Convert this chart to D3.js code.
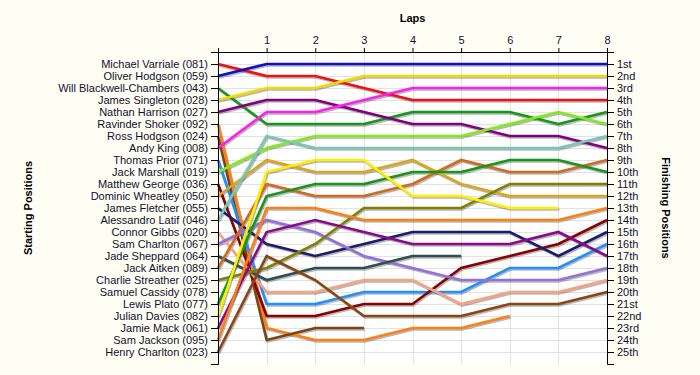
<!DOCTYPE html>
<html>
<head>
<meta charset="utf-8">
<script src="https://cdn.jsdelivr.net/npm/d3@7"></script>
<style>
  body { margin: 0; background: #fffef4; }
  svg { display: block; }
  text { font-family: "Liberation Sans", Arial, sans-serif; }
</style>
</head>
<body>
<svg id="chart"></svg>
<script>
// starting grid order, labels on the left axis
let drivers = [
    "Michael Varriale (081)", "Oliver Hodgson (059)", "Will Blackwell-Chambers (043)",
    "James Singleton (028)", "Nathan Harrison (027)", "Ravinder Shoker (092)",
    "Ross Hodgson (024)", "Andy King (008)", "Thomas Prior (071)",
    "Jack Marshall (019)", "Matthew George (036)", "Dominic Wheatley (050)",
    "James Fletcher (055)", "Alessandro Latif (046)", "Connor Gibbs (020)",
    "Sam Charlton (067)", "Jade Sheppard (064)", "Jack Aitken (089)",
    "Charlie Streather (025)", "Samuel Cassidy (078)", "Lewis Plato (077)",
    "Julian Davies (082)", "Jamie Mack (061)", "Sam Jackson (095)",
    "Henry Charlton (023)"
];

// position of each driver at lap 0,1,2... (shorter arrays = retired)
let positions = [
    [1, 2, 2, 3, 4, 4, 4, 4, 4],
    [2, 1, 1, 1, 1, 1, 1, 1, 1],
    [3, 6, 6, 6, 5, 5, 5, 6, 5],
    [4, 3, 3, 2, 2, 2, 2, 2, 2],
    [5, 4, 4, 5, 6, 6, 7, 7, 8],
    [6, 23, 24, 24, 23, 23, 22],
    [7, 24, 23, 23],
    [8, 5, 5, 4, 3, 3, 3, 3, 3],
    [9, 21, 21, 20, 20, 20, 18, 18, 16],
    [10, 8, 7, 7, 7, 7, 6, 5, 6],
    [11, 22, 22, 21, 21, 18, 17, 16, 14],
    [12, 9, 10, 10, 9, 11, 12, 12, 12],
    [13, 16, 17, 16, 15, 15, 15, 17, 15],
    [14, 7, 8, 8, 8, 8, 8, 8, 7],
    [15, 20, 20, 19, 19, 21, 20, 20, 19],
    [16, 14, 15, 17, 18, 19, 19, 19, 18],
    [17, 19, 18, 18, 17, 17],
    [18, 11, 12, 12, 11, 9, 10, 10, 9],
    [19, 18, 16, 13, 13, 13, 11, 11, 11],
    [20],
    [21, 12, 11, 11, 10, 10, 9, 9, 10],
    [22, 10, 9, 9, 12, 12, 13, 13],
    [23, 15, 14, 15, 16, 16, 16, 15, 17],
    [24, 13, 13, 14, 14, 14, 14, 14, 13],
    [25, 17, 19, 22, 22, 22, 21, 21, 20]
];

let lineColors = [
    "#ee1111", "#1010cc", "#16961a", "#f2dc00", "#800080", "#ff7f10",
    "#7a4512", "#ff1ef0", "#1e90ff", "#80ec1a", "#8b0000", "#daa520",
    "#1c1c6e", "#78c8b4", "#f8a282", "#9370db", "#2f4f4f", "#d2691e",
    "#808000", "#999999", "#16961a", "#ffee00", "#8a0a8a", "#ff7f10",
    "#8b4513"
];

let laps = [0, 1, 2, 3, 4, 5, 6, 7, 8];
let lapLabels = ["", "1", "2", "3", "4", "5", "6", "7", "8"];
let finishLabels = [
    "1st", "2nd", "3rd", "4th", "5th", "6th", "7th", "8th", "9th", "10th",
    "11th", "12th", "13th", "14th", "15th", "16th", "17th", "18th", "19th", "20th",
    "21st", "22nd", "23rd", "24th", "25th"
];

let width = 700;
let height = 375;
let plotLeft = 218, plotRight = 607, plotTop = 52, plotBottom = 364;

let svg = d3.select("#chart")
    .attr("width", width)
    .attr("height", height);

svg.append("rect")
    .attr("x", plotLeft).attr("y", plotTop)
    .attr("width", plotRight - plotLeft).attr("height", plotBottom - plotTop)
    .attr("fill", "#ffffff");

let x = d3.scaleLinear().domain([0, 8]).range([plotLeft, plotRight]);
let y = d3.scaleLinear().domain([0, finishLabels.length + 1]).range([plotTop, plotBottom]);
let slots = d3.range(1, finishLabels.length + 1);

// grid
let grid = svg.append("g").attr("stroke", "#e2e2e2").attr("stroke-width", 1);
grid.selectAll("line.h")
    .data(slots)
    .enter()
    .append("line")
    .attr("x1", plotLeft).attr("x2", plotRight)
    .attr("y1", d => Math.round(y(d)) + 0.5)
    .attr("y2", d => Math.round(y(d)) + 0.5);
grid.selectAll("line.v")
    .data(laps.slice(1, -1))
    .enter()
    .append("line")
    .attr("x1", d => Math.round(x(d)) + 0.5)
    .attr("x2", d => Math.round(x(d)) + 0.5)
    .attr("y1", plotTop).attr("y2", plotBottom);

// driver lines
let line = d3.line()
    .x((d, i) => x(laps[i]))
    .y(d => y(d));

let shadows = svg.append("g")
    .attr("transform", "translate(1,1.5)");
shadows.selectAll("path")
    .data(positions)
    .enter()
    .append("path")
    .attr("d", line)
    .attr("fill", "none")
    .attr("stroke", "#000")
    .attr("stroke-opacity", 0.28)
    .attr("stroke-width", 2.6);

svg.append("g").selectAll("path")
    .data(positions)
    .enter()
    .append("path")
    .attr("d", line)
    .attr("fill", "none")
    .attr("stroke", (d, i) => lineColors[i])
    .attr("stroke-width", 2.6)
    .attr("stroke-linejoin", "miter");

// axes
let axisLeft = d3.axisLeft(y)
    .tickValues(slots)
    .tickFormat(d => drivers[d - 1])
    .tickSize(7)
    .tickPadding(3);
let axisRight = d3.axisRight(y)
    .tickValues(slots)
    .tickFormat(d => finishLabels[d - 1])
    .tickSize(7)
    .tickPadding(3);
let axisTop = d3.axisTop(x)
    .tickValues(laps)
    .tickFormat(d => lapLabels[d])
    .tickSize(4)
    .tickSizeOuter(4)
    .tickPadding(4);

let styleAxis = function(g) {
    g.selectAll("path, line").attr("stroke", "#000");
    g.selectAll("text")
        .attr("fill", "#101030")
        .style("font-size", "11px");
};

svg.append("g").attr("transform", "translate(" + plotLeft + ",0)").call(axisLeft).call(styleAxis);
svg.append("g").attr("transform", "translate(" + plotRight + ",0)").call(axisRight).call(styleAxis);
svg.append("g").attr("transform", "translate(0," + plotTop + ")").call(axisTop).call(styleAxis);

// top rule across the plot
svg.append("line")
    .attr("x1", plotLeft - 7).attr("x2", plotRight + 7)
    .attr("y1", plotTop + 0.5).attr("y2", plotTop + 0.5)
    .attr("stroke", "#000");

// titles
svg.append("text")
    .text("Laps")
    .attr("x", (plotLeft + plotRight) / 2)
    .attr("y", 22)
    .attr("text-anchor", "middle")
    .style("font-weight", "bold")
    .style("font-size", "11px");

svg.append("text")
    .text("Starting Positions")
    .attr("transform", "translate(32," + (plotTop + plotBottom) / 2 + ") rotate(-90)")
    .attr("text-anchor", "middle")
    .style("font-weight", "bold")
    .style("font-size", "11px");

svg.append("text")
    .text("Finishing Positions")
    .attr("transform", "translate(662," + (plotTop + plotBottom) / 2 + ") rotate(90)")
    .attr("text-anchor", "middle")
    .style("font-weight", "bold")
    .style("font-size", "11px");
</script>
</body>
</html>
